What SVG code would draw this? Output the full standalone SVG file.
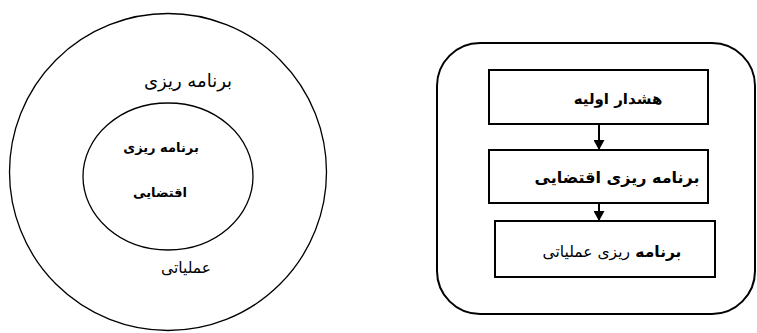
<svg xmlns="http://www.w3.org/2000/svg" width="757" height="333" viewBox="0 0 757 333">
<defs>
<style>
.ln{fill:none;stroke:#000;}
.box{fill:#fff;stroke:#000;stroke-width:2;}
.t{font-family:"DejaVu Sans",sans-serif;fill:#000;text-anchor:middle;}
.b{font-weight:bold;}
</style>
<marker id="ah" markerWidth="10" markerHeight="11" refX="10" refY="5.5" orient="auto" markerUnits="userSpaceOnUse">
<path d="M0,0 L10,5.5 L0,11 Z" fill="#000"/>
</marker>
</defs>
<rect width="757" height="333" fill="#fff"/>
<g id="outer-circle">
<circle class="ln" cx="168" cy="172" r="158.5" stroke-width="1.3"/>
<text class="t" x="188" y="87" font-size="18" direction="rtl">برنامه ریزی</text>
<text class="t" x="186" y="273" font-size="15.5" direction="rtl">عملیاتی</text>
</g>
<g id="inner-circle">
<ellipse class="ln" cx="168" cy="176.5" rx="85" ry="73.5" stroke-width="1.3"/>
<text class="t b" x="161" y="152" font-size="13" direction="rtl">برنامه ریزی</text>
<text class="t b" x="160" y="197" font-size="13" direction="rtl">اقتضایی</text>
</g>
<g id="frame">
<rect class="ln" x="437" y="43" width="318" height="271" rx="43" ry="43" stroke-width="2"/>
</g>
<g id="box1">
<rect class="box" x="489" y="70" width="219" height="54"/>
<text class="t b" x="618" y="104" font-size="15" direction="rtl">هشدار اولیه</text>
</g>
<g id="box2">
<rect class="box" x="489" y="150" width="219" height="53"/>
<text class="t b" x="617" y="183" font-size="16" direction="rtl">برنامه ریزی اقتضایی</text>
</g>
<g id="box3">
<rect class="box" x="495" y="221" width="220" height="56"/>
<text class="t" x="612" y="257" font-size="15.5" direction="rtl"><tspan font-weight="bold">برنامه </tspan>ریزی عملیاتی</text>
</g>
<g id="connectors">
<line class="ln" x1="599" y1="124" x2="599" y2="150" stroke-width="2" marker-end="url(#ah)"/>
<line class="ln" x1="599" y1="203" x2="599" y2="221" stroke-width="2" marker-end="url(#ah)"/>
</g>
</svg>
